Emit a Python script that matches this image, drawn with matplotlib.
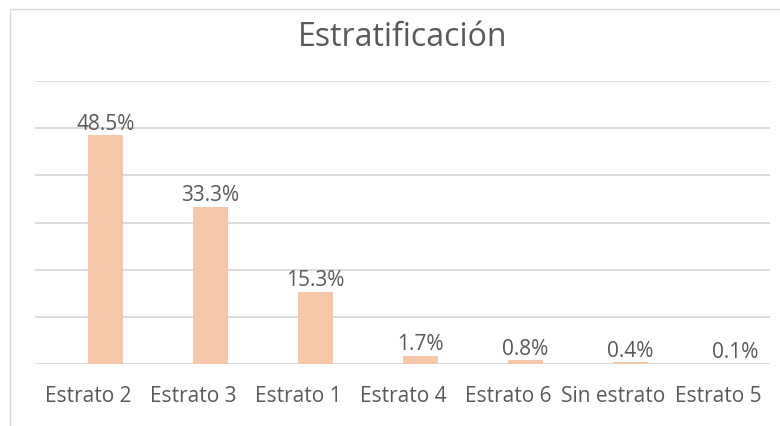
import matplotlib
matplotlib.use("Agg")
import matplotlib.pyplot as plt
from matplotlib.patches import Rectangle
from matplotlib.transforms import ScaledTranslation

categories = ["Estrato 2", "Estrato 3", "Estrato 1", "Estrato 4", "Estrato 6", "Sin estrato", "Estrato 5"]
values = [48.5, 33.3, 15.3, 1.7, 0.8, 0.4, 0.1]
labels = ["48.5%", "33.3%", "15.3%", "1.7%", "0.8%", "0.4%", "0.1%"]

TEXT = "#595959"
GRID = "#D9D9D9"
BAR = "#F5C8A9"

plt.rcParams["font.family"] = ["Open Sans", "DejaVu Sans"]

fig = plt.figure(figsize=(7.8, 4.26), dpi=100)
# chart frame (only top and left edges visible in the crop)
fig.patches.append(Rectangle((10 / 780, -0.1), 1.0, 1.1 - 9 / 426, transform=fig.transFigure,
                             fill=False, edgecolor="#D9D9D9", linewidth=1.0))

ax = fig.add_axes([35 / 780, (426 - 364) / 426, 735 / 780, (364 - 81) / 426])
x = list(range(len(categories)))
ax.bar(x, values, width=0.333, color=BAR, zorder=2)
for xi, v, lab in zip(x, values, labels):
    ax.annotate(lab, (xi, v), xytext=(0, 4), textcoords="offset points",
                ha="center", va="baseline", fontsize=15, color=TEXT)

ax.set_xlim(-0.671, 6.329)
ax.set_ylim(0, 60)
ax.set_yticks(range(0, 61, 10))
ax.yaxis.grid(True, color=GRID, linewidth=1.3)
ax.set_axisbelow(True)
ax.tick_params(axis="y", left=False, labelleft=False)
ax.tick_params(axis="x", length=0, pad=16, labelsize=15, labelcolor=TEXT)
ax.set_xticks(x)
ax.set_xticklabels(categories)
shift = ScaledTranslation(-17.5 / 100, 0, fig.dpi_scale_trans)
for t in ax.get_xticklabels():
    t.set_transform(t.get_transform() + shift)
for s in ax.spines.values():
    s.set_visible(False)

fig.text(403 / 780, 1 - 46 / 426, "Estratificación", ha="center", va="baseline", fontsize=23, color=TEXT)

fig.savefig("out.png", dpi=100)
